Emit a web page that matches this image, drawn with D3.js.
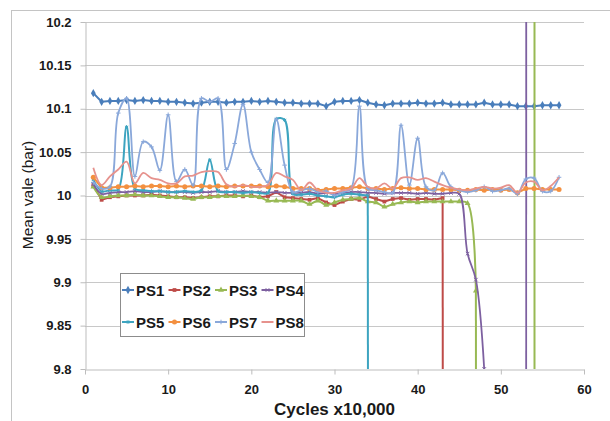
<!DOCTYPE html>
<html>
<head>
<meta charset="utf-8">
<script src="https://cdn.jsdelivr.net/npm/d3@7"></script>
<style>
body { margin: 0; background: #fff; }
text { font-family: "Liberation Sans", Arial, sans-serif; }
</style>
</head>
<body>
<div id="chart"></div>
<script>
// x = cycles (x10,000), one reading per step
const cycles = d3.range(1, 58);
const xTicks = [0, 10, 20, 30, 40, 50, 60];
const yTicks = [9.8, 9.85, 9.9, 9.95, 10, 10.05, 10.1, 10.15, 10.2];

const ps1 = [10.118, 10.108, 10.109, 10.109, 10.110, 10.109, 10.110, 10.109, 10.109, 10.108,
  10.108, 10.107, 10.106, 10.107, 10.108, 10.108, 10.107, 10.108, 10.108, 10.109,
  10.108, 10.109, 10.108, 10.107, 10.107, 10.106, 10.106, 10.106, 10.103, 10.108,
  10.109, 10.109, 10.110, 10.107, 10.105, 10.104, 10.106, 10.106, 10.106, 10.107,
  10.106, 10.106, 10.107, 10.105, 10.105, 10.105, 10.105, 10.107, 10.105, 10.105,
  10.105, 10.103, 10.103, 10.103, 10.104, 10.104, 10.104];
// 0 = sensor failed (goes off the bottom of the axis)
const ps2 = [10.012, 9.995, 9.998, 9.999, 10.000, 10.000, 10.000, 10.001, 10.000, 9.999,
  9.998, 9.998, 9.997, 9.998, 9.999, 9.999, 10.000, 10.000, 9.999, 10.000,
  9.998, 9.999, 10.004, 9.998, 9.997, 9.996, 9.995, 9.997, 9.992, 9.989,
  9.993, 9.996, 9.995, 9.999, 9.996, 9.993, 9.996, 9.997, 9.995, 9.996,
  9.996, 9.995, 9.997, 0];
const ps3 = [10.010, 9.998, 9.999, 10.000, 10.000, 10.001, 10.000, 10.000, 9.999, 9.998,
  9.998, 9.997, 9.996, 9.998, 9.998, 9.999, 9.999, 9.999, 10.000, 9.999,
  9.998, 9.994, 9.994, 9.994, 9.994, 9.994, 9.990, 9.994, 9.989, 9.992,
  9.995, 9.996, 9.997, 9.993, 9.992, 9.987, 9.990, 9.992, 9.993, 9.992,
  9.993, 9.993, 9.993, 9.993, 9.993, 9.991, 9.890, 0, 0, 0,
  0, 0, 0, 0, 200];
const ps4 = [10.013, 10.002, 10.003, 10.004, 10.004, 10.005, 10.004, 10.004, 10.005, 10.004,
  10.004, 10.004, 10.003, 10.004, 10.004, 10.005, 10.004, 10.004, 10.005, 10.004,
  10.004, 10.003, 10.004, 10.003, 10.003, 10.003, 10.004, 10.002, 10.003, 10.002,
  10.003, 10.004, 10.004, 10.003, 10.003, 10.002, 10.003, 10.003, 10.003, 10.002,
  10.003, 10.002, 10.002, 10.003, 10.002, 9.933, 9.903, 9.800, 0, 0,
  0, 0, 0, 200];
const ps5 = [10.018, 10.005, 10.006, 10.007, 10.079, 10.008, 10.006, 10.005, 10.005, 10.004,
  10.004, 10.005, 10.004, 10.006, 10.041, 10.005, 10.004, 10.004, 10.003, 10.004,
  10.003, 10.003, 10.088, 10.087, 10.002, 10.001, 10.002, 10.000, 9.999, 9.998,
  10.001, 10.002, 10.001, 10.000, 0];
const ps6 = [10.021, 10.009, 10.009, 10.010, 10.010, 10.011, 10.010, 10.011, 10.011, 10.010,
  10.011, 10.010, 10.011, 10.011, 10.010, 10.011, 10.010, 10.011, 10.011, 10.011,
  10.011, 10.010, 10.011, 10.010, 10.008, 10.008, 10.008, 10.006, 10.007, 10.008,
  10.008, 10.009, 10.010, 10.008, 10.008, 10.007, 10.008, 10.009, 10.008, 10.008,
  10.007, 10.007, 10.007, 10.007, 10.006, 10.006, 10.007, 10.006, 10.007, 10.006,
  10.007, 10.003, 10.008, 10.008, 10.007, 10.007, 10.007];
const ps7 = [10.015, 10.008, 10.010, 10.095, 10.112, 10.022, 10.062, 10.056, 10.029, 10.093,
  10.016, 10.030, 10.012, 10.112, 10.108, 10.112, 10.030, 10.060, 10.105, 10.050,
  10.030, 10.015, 10.088, 10.035, 10.004, 10.006, 10.008, 10.004, 10.005, 10.000,
  10.004, 10.008, 10.103, 10.008, 10.006, 10.004, 10.003, 10.081, 10.012, 10.066,
  10.010, 10.006, 10.026, 10.010, 10.006, 10.004, 10.006, 10.010, 10.005, 10.006,
  10.008, 10.002, 10.019, 10.020, 10.005, 10.005, 10.021];
const ps8 = [10.032, 10.012, 10.022, 10.030, 10.039, 10.014, 10.026, 10.020, 10.018, 10.014,
  10.014, 10.022, 10.023, 10.027, 10.028, 10.027, 10.013, 10.010, 10.012, 10.010,
  10.010, 10.012, 10.026, 10.022, 10.018, 10.006, 10.015, 10.006, 10.003, 10.003,
  10.006, 10.008, 10.020, 10.010, 10.008, 10.014, 10.008, 10.020, 10.021, 10.018,
  10.020, 10.016, 10.012, 10.009, 10.007, 10.006, 10.008, 10.010, 10.008, 10.009,
  10.012, 10.003, 10.015, 10.016, 10.006, 10.011, 10.021];

const series = [
  {name: 'PS1', values: ps1, color: '#4a7ebb', symbol: d3.symbolDiamond, size: 20, smooth: false, width: 2},
  {name: 'PS2', values: ps2, color: '#be4b48', symbol: d3.symbolSquare, size: 14, smooth: false, width: 2},
  {name: 'PS3', values: ps3, color: '#98b954', symbol: d3.symbolTriangle, size: 15, smooth: true, width: 2},
  {name: 'PS4', values: ps4, color: '#7d60a0', symbol: d3.symbolTimes || d3.symbolCross, size: 10, smooth: true, width: 1.8, stroke: true},
  {name: 'PS5', values: ps5, color: '#3da4c0', symbol: d3.symbolAsterisk || d3.symbolStar, size: 10, smooth: true, width: 2, stroke: true},
  {name: 'PS6', values: ps6, color: '#f39040', symbol: d3.symbolCircle, size: 20, smooth: false, width: 2},
  {name: 'PS7', values: ps7, color: '#8aa8da', symbol: d3.symbolPlus || d3.symbolCross, size: 8, smooth: true, width: 1.8, stroke: true},
  {name: 'PS8', values: ps8, color: '#e6928d', symbol: null, size: 0, smooth: true, width: 1.8}
];

const W = 610, H = 421;
const margin = {top: 22, right: 26, bottom: 52, left: 85};

const svg = d3.select('#chart').append('svg')
  .attr('width', W)
  .attr('height', H);

// chart area frame (runs off the right and bottom of the picture)
svg.append('rect')
  .attr('x', 11.5).attr('y', 10.5)
  .attr('width', W).attr('height', H)
  .attr('fill', 'none')
  .attr('stroke', '#c4c4c4');

const x = d3.scaleLinear().domain([0, 60]).range([margin.left, W - margin.right]);
const y = d3.scaleLinear().domain([9.8, 10.2]).range([H - margin.bottom, margin.top]);
const yMin = y.domain()[0], yMax = y.domain()[1];

// gridlines
svg.append('g')
  .selectAll('line')
  .data(yTicks.slice(1))
  .enter()
  .append('line')
  .attr('x1', x(0)).attr('x2', x(60))
  .attr('y1', d => Math.round(y(d)) + 0.5)
  .attr('y2', d => Math.round(y(d)) + 0.5)
  .attr('stroke', '#c8c8c8');

// axes
const yAxis = svg.append('g')
  .attr('transform', `translate(${x(0) + 0.5},0)`)
  .call(d3.axisLeft(y).tickValues(yTicks).tickSize(5).tickSizeOuter(0).tickPadding(9)
    .tickFormat(d => String(+d.toFixed(2))));
const xAxis = svg.append('g')
  .attr('transform', `translate(0,${Math.round(y(9.8)) + 0.5})`)
  .call(d3.axisBottom(x).tickValues(xTicks).tickSize(5).tickSizeOuter(0).tickPadding(10)
    .tickFormat(d3.format('d')));

[yAxis, xAxis].forEach(a => {
  a.select('.domain').attr('stroke', '#bdbdbd');
  a.selectAll('.tick line').attr('stroke', '#bdbdbd');
  a.selectAll('.tick text')
    .attr('fill', '#1a1a1a')
    .style('font-size', '13px')
    .style('font-weight', 'bold');
});

// axis titles
svg.append('text')
  .attr('transform', 'translate(33,195) rotate(-90)')
  .attr('text-anchor', 'middle')
  .style('font-size', '15.5px')
  .attr('fill', '#1a1a1a')
  .text('Mean vale (bar)');

svg.append('text')
  .attr('x', (x(0) + x(60)) / 2)
  .attr('y', 415)
  .attr('text-anchor', 'middle')
  .style('font-size', '17px')
  .style('font-weight', 'bold')
  .attr('fill', '#1a1a1a')
  .text('Cycles x10,000');

// plot clip
svg.append('clipPath').attr('id', 'plotClip')
  .append('rect')
  .attr('x', x(0)).attr('y', y(10.2))
  .attr('width', x(60) - x(0)).attr('height', y(9.8) - y(10.2));

const plot = svg.append('g').attr('clip-path', 'url(#plotClip)');
const inRange = v => v >= yMin - 1e-9 && v <= yMax + 1e-9;

series.forEach(s => {
  const pts = s.values.map((v, i) => ({x: cycles[i], v: v}));
  const g = plot.append('g');
  const smoothLine = d3.line()
    .x(d => x(d.x)).y(d => y(d.v))
    .curve(s.smooth ? d3.curveCatmullRom.alpha(0.5) : d3.curveLinear);
  const straight = d3.line().x(d => x(d.x)).y(d => y(d.v));

  // in-range runs get the smoothing, jumps off the scale are straight
  let run = [];
  const runs = [];
  pts.forEach(p => {
    if (inRange(p.v)) run.push(p);
    else { if (run.length) runs.push(run); run = []; }
  });
  if (run.length) runs.push(run);

  runs.forEach(r => {
    if (r.length < 2) return;
    g.append('path')
      .attr('d', smoothLine(r))
      .attr('fill', 'none')
      .attr('stroke', s.color)
      .attr('stroke-width', s.width)
      .attr('stroke-linejoin', 'round');
  });

  for (let i = 0; i < pts.length - 1; i++) {
    if (!inRange(pts[i].v) || !inRange(pts[i + 1].v)) {
      if (!inRange(pts[i].v) && !inRange(pts[i + 1].v) && pts[i].v === pts[i + 1].v) continue;
      g.append('path')
        .attr('d', straight([pts[i], pts[i + 1]]))
        .attr('fill', 'none')
        .attr('stroke', s.color)
        .attr('stroke-width', s.width);
    }
  }

  if (s.symbol) {
    g.selectAll('.marker')
      .data(pts.filter(p => inRange(p.v)))
      .enter()
      .append('path')
      .attr('class', 'marker')
      .attr('transform', d => `translate(${x(d.x)},${y(d.v)})`)
      .attr('d', d3.symbol().type(s.symbol).size(s.size))
      .attr('fill', s.stroke ? 'none' : s.color)
      .attr('stroke', s.stroke ? s.color : 'none')
      .attr('stroke-width', 1);
  }
});

// legend
const legend = svg.append('g');
legend.append('rect')
  .attr('x', 120.5).attr('y', 273.5)
  .attr('width', 184).attr('height', 63)
  .attr('fill', '#fff')
  .attr('stroke', '#8c8c8c');

const item = legend.selectAll('.item')
  .data(series)
  .enter()
  .append('g')
  .attr('class', 'item')
  .attr('transform', (d, i) => `translate(${122 + (i % 4) * 46.5},${i < 4 ? 290 : 322})`);

item.append('line')
  .attr('x1', 0).attr('x2', 12)
  .attr('stroke', d => d.color)
  .attr('stroke-width', 2);

item.filter(d => d.symbol)
  .append('path')
  .attr('transform', 'translate(6,0)')
  .attr('d', d => d3.symbol().type(d.symbol).size(d.size)())
  .attr('fill', d => d.stroke ? 'none' : d.color)
  .attr('stroke', d => d.stroke ? d.color : 'none');

item.append('text')
  .attr('x', 14)
  .attr('y', 5.5)
  .style('font-size', '15px')
  .style('font-weight', 'bold')
  .attr('fill', '#1a1a1a')
  .text(d => d.name);
</script>
</body>
</html>
